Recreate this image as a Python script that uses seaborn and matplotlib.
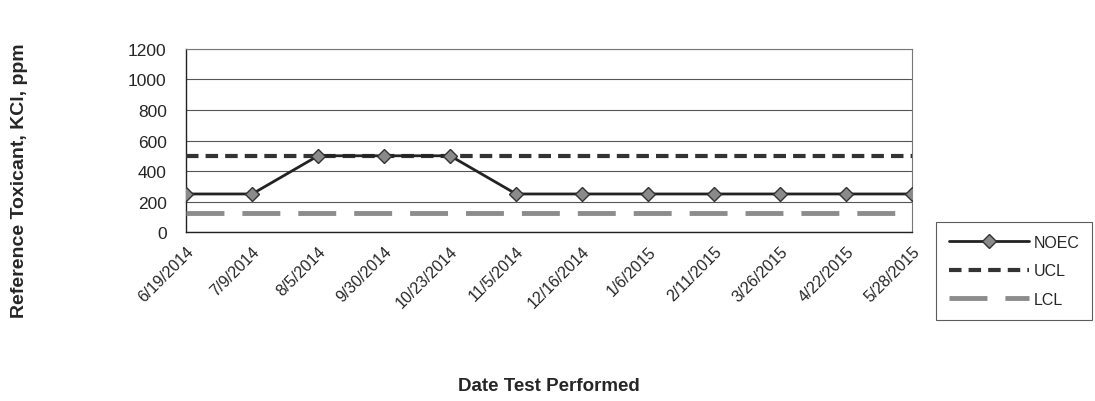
import matplotlib
matplotlib.use("Agg")
import matplotlib.pyplot as plt
import seaborn as sns
import pandas as pd

dates = ["6/19/2014", "7/9/2014", "8/5/2014", "9/30/2014", "10/23/2014", "11/5/2014",
         "12/16/2014", "1/6/2015", "2/11/2015", "3/26/2015", "4/22/2015", "5/28/2015"]
noec = [250, 250, 500, 500, 500, 250, 250, 250, 250, 250, 250, 250]
ucl = [500] * 12
lcl = [125] * 12
y_ticks = [0, 200, 400, 600, 800, 1000, 1200]

sns.set_style("white")
plt.rcParams['font.family'] = ['Liberation Sans', 'DejaVu Sans']

df = pd.DataFrame({"idx": list(range(len(dates))), "NOEC": noec, "UCL": ucl, "LCL": lcl})

fig = plt.figure(figsize=(10.95, 4.02), dpi=100)
ax = fig.add_axes([0.170, 0.420, 0.663, 0.456])

sns.lineplot(data=df, x="idx", y="NOEC", ax=ax, color="#222222", lw=2,
             marker="D", markersize=7.5, markerfacecolor="#8a8a8a", markeredgecolor="#333333",
             markeredgewidth=1, label="NOEC", zorder=5)
sns.lineplot(data=df, x="idx", y="UCL", ax=ax, color="#333333", lw=3,
             label="UCL", zorder=3)
sns.lineplot(data=df, x="idx", y="LCL", ax=ax, color="#8c8c8c", lw=3.5,
             label="LCL", zorder=3)
lines = ax.get_lines()
lines[1].set_dashes([3, 1.7])
lines[2].set_dashes([7.8, 3.7])

ax.set_xlim(0, len(dates) - 1)
ax.set_ylim(0, 1200)
ax.set_yticks(y_ticks)
ax.set_yticklabels([str(v) for v in y_ticks], fontsize=12.5)
ax.set_xticks(range(len(dates)))
ax.set_xticklabels(dates, rotation=45, ha="right", rotation_mode="anchor", fontsize=11.5)
ax.grid(axis="y", color="#555555", lw=0.8)
ax.tick_params(axis="x", direction="out", length=5, color="#222222", pad=3)
ax.tick_params(axis="y", length=0, pad=14)
for s in ["top", "right"]:
    ax.spines[s].set_color("#777777")
    ax.spines[s].set_linewidth(0.8)
for s in ["left", "bottom"]:
    ax.spines[s].set_color("#222222")
    ax.spines[s].set_linewidth(1.0)

ax.set_xlabel("Date Test Performed", fontsize=13.5, fontweight="bold", labelpad=48)
ax.set_ylabel("")
fig.text(0.018, 0.55, "Reference Toxicant, KCl, ppm", rotation=90, fontsize=14,
         fontweight="bold", ha="center", va="center")

leg = ax.legend(loc="upper left", bbox_to_anchor=(1.033, 0.055), frameon=True,
                fancybox=False, edgecolor="#333333", fontsize=11.5, handlelength=5,
                labelspacing=0.85, borderpad=0.8, handletextpad=0.3, borderaxespad=0)
leg.get_frame().set_linewidth(0.8)

fig.savefig("out.png", dpi=100)
